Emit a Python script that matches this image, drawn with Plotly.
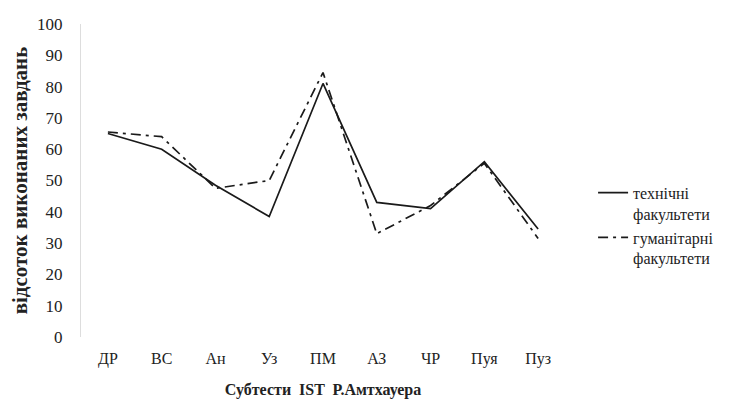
import plotly.graph_objects as go

categories = ["ДР", "ВС", "Ан", "Уз", "ПМ", "АЗ", "ЧР", "Пуя", "Пуз"]
technical = [65, 60, 48.5, 38.5, 81, 43, 41, 56, 34.5]
humanities = [65.5, 64, 47.5, 50, 84.5, 33, 42, 55.5, 31.5]
y_ticks = [0, 10, 20, 30, 40, 50, 60, 70, 80, 90, 100]

FONT = "Liberation Serif, Times New Roman, serif"
INK = "#222222"

fig = go.Figure()
fig.add_trace(go.Scatter(
    x=categories, y=technical, mode="lines", name="технічні<br>факультети",
    line=dict(color="#1a1a1a", width=1.7),
))
fig.add_trace(go.Scatter(
    x=categories, y=humanities, mode="lines", name="гуманітарні<br>факультети",
    line=dict(color="#1a1a1a", width=1.7, dash="10px,5px,3px,5px"),
))

fig.update_layout(
    width=744, height=405,
    margin=dict(l=73, r=187, t=16, b=76),
    paper_bgcolor="white", plot_bgcolor="white",
    font=dict(family=FONT, color=INK, size=15),
    showlegend=True,
    legend=dict(
        x=1.058, y=0.515, xanchor="left", yanchor="top",
        font=dict(family=FONT, size=16, color=INK),
        itemwidth=30, valign="top",
        bgcolor="rgba(0,0,0,0)",
    ),
    xaxis=dict(
        type="category", range=[-0.5, 8.5], automargin=False,
        showgrid=False, zeroline=False, showline=False, ticks="",
        ticklabelstandoff=10,
        tickfont=dict(family=FONT, size=16, color=INK),
        title=dict(text="<b>Субтести  IST  Р.Амтхауера</b>",
                   font=dict(family=FONT, size=16, color=INK), standoff=16),
    ),
    yaxis=dict(
        range=[0, 100], tickmode="array", tickvals=y_ticks, automargin=False,
        showgrid=False, zeroline=False, showline=True, linecolor="#dddddd", linewidth=1,
        ticks="", ticklabelstandoff=14,
        tickfont=dict(family=FONT, size=17, color=INK),
        title=dict(text="<b>відсоток виконаних завдань</b>",
                   font=dict(family=FONT, size=21, color=INK), standoff=10),
    ),
)

fig.write_html("out.html")
